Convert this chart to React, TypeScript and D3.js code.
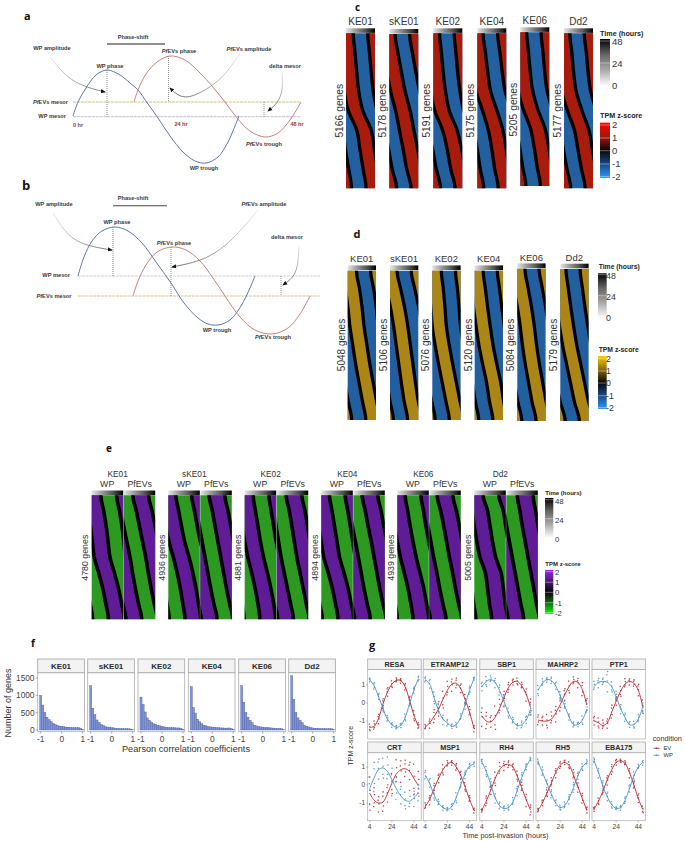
import React from "react";
import * as d3 from "d3";

// ---------- DATA ----------
const STRAINS = ["KE01", "sKE01", "KE02", "KE04", "KE06", "Dd2"];
const GENES_C = [5166, 5178, 5191, 5175, 5205, 5177];
const GENES_D = [5048, 5106, 5076, 5120, 5084, 5179];
const GENES_E = [4780, 4936, 4881, 4894, 4939, 5005];
const ROW_FRACS = [0, 0.125, 0.25, 0.375, 0.5, 0.625, 0.75, 0.875, 1];

// phase of the high-to-low crossing (fraction of the 48 h column span) read down each heatmap
const PHASE_C = [
  [.25, .31, .37, .44, .58, .87, .98, 1.09, 1.19],
  [.2, .3, .42, .55, .72, .85, .98, 1.1, 1.25],
  [.22, .28, .34, .42, .55, .82, .98, 1.1, 1.25],
  [.2, .28, .36, .46, .68, .88, 1.0, 1.1, 1.22],
  [.22, .28, .34, .42, .6, .85, .98, 1.08, 1.19],
  [.2, .27, .33, .42, .62, .86, .98, 1.1, 1.23],
];
const PHASE_D = [
  [.31, .42, .51, .58, .68, .78, .9, 1.02, 1.14],
  [.25, .38, .52, .63, .72, .81, .9, 1.0, 1.12],
  [.32, .39, .45, .5, .6, .72, .85, .98, 1.1],
  [.3, .38, .46, .55, .65, .78, .92, 1.02, 1.14],
  [.27, .38, .5, .6, .68, .78, .9, 1.02, 1.16],
  [.2, .28, .37, .47, .58, .72, .86, 1.0, 1.17],
];
const PHASE_E_WP = [
  [.29, .38, .46, .52, .58, .72, .85, .95, 1.03],
  [.24, .33, .42, .52, .66, .78, .88, .96, 1.03],
  [.27, .34, .42, .5, .6, .72, .83, .92, .98],
  [.26, .34, .42, .5, .58, .72, .85, .95, 1.03],
  [.25, .33, .41, .5, .6, .72, .84, .93, 1.0],
  [.28, .42, .5, .58, .68, .85, .92, .98, 1.05],
];
const PHASE_E_EV = [
  [.79, .9, 1.0, 1.1, 1.2, 1.28, 1.37, 1.47, 1.57],
  [.78, .88, .97, 1.06, 1.15, 1.24, 1.33, 1.43, 1.53],
  [.8, .9, .98, 1.06, 1.14, 1.24, 1.34, 1.44, 1.53],
  [.78, .88, .97, 1.07, 1.16, 1.25, 1.34, 1.44, 1.54],
  [.75, .86, .96, 1.05, 1.14, 1.24, 1.33, 1.43, 1.53],
  [.85, .93, 1.01, 1.1, 1.19, 1.28, 1.37, 1.46, 1.55],
];

const HIST_BINS = [-1, -.9, -.8, -.7, -.6, -.5, -.4, -.3, -.2, -.1, 0, .1, .2, .3, .4, .5, .6, .7, .8, .9, 1];
const HIST_COUNTS = [
  [1000, 720, 510, 370, 300, 240, 190, 160, 130, 115, 105, 95, 85, 80, 75, 70, 65, 65, 70, 55, 20],
  [1280, 630, 450, 290, 220, 160, 130, 100, 85, 80, 70, 60, 50, 45, 40, 40, 35, 35, 35, 30, 12],
  [950, 740, 520, 350, 280, 230, 180, 170, 140, 120, 110, 90, 80, 70, 70, 65, 65, 60, 60, 50, 18],
  [1250, 650, 490, 310, 240, 180, 140, 120, 100, 90, 85, 75, 70, 65, 60, 60, 55, 55, 60, 45, 15],
  [1280, 800, 510, 370, 280, 210, 140, 120, 100, 90, 85, 75, 70, 65, 60, 55, 50, 45, 45, 35, 12],
  [1570, 880, 510, 350, 280, 210, 140, 110, 90, 70, 60, 50, 50, 45, 40, 40, 35, 35, 35, 35, 12],
];

const GENE_NAMES = ["RESA", "ETRAMP12", "SBP1", "MAHRP2", "PTP1", "CRT", "MSP1", "RH4", "RH5", "EBA175"];
const TIMES = [4, 8, 12, 16, 20, 24, 28, 32, 36, 40, 44, 48];
const EV_CURVES = [
  [-1.35, -1.3, -.85, -.05, .6, 1.05, 1.25, 1.25, .9, .15, -.7, -1.3],
  [-1.35, -1.1, -.75, -.35, .2, .7, 1.05, 1.1, .8, .2, -.5, -1.4],
  [-.7, -1.0, -1.05, -.8, -.3, .3, .85, 1.15, 1.2, .95, .5, -.25],
  [-.95, -1.0, -1.0, -.9, -.55, -.1, .45, .9, 1.2, 1.15, .75, -.1],
  [-1, -1.1, -1.25, -1.1, -.5, .1, .65, 1.05, 1.2, 1.1, .7, -.2],
  [-.45, -.85, -1.0, -.95, -.5, .1, .6, .85, .9, .75, .35, -.05],
  [-1.2, -.8, -.2, .35, .85, 1.15, 1.25, 1.0, .55, -.1, -.8, -1.4],
  [-1.4, -.9, -.3, .35, .85, 1.1, 1.15, 1.0, .5, -.15, -.8, -1.4],
  [-1.4, -1, -.45, .1, .7, 1.1, 1.25, 1.1, .55, -.1, -.75, -1.4],
  [-1.35, -.9, -.35, .3, .85, 1.25, 1.35, 1.2, .7, 0, -.75, -1.35],
];
const WP_CURVES = [
  [1.3, .95, .35, -.3, -.9, -1.2, -1.35, -1.25, -.8, -.05, .75, 1.35],
  [1.3, 1.05, .3, -.4, -.9, -1.1, -1.3, -1.2, -.8, -.1, .7, 1.35],
  [.9, 1.2, 1.3, 1.15, .7, .1, -.55, -1.0, -1.25, -1.2, -.95, -.35],
  [.7, 1.1, 1.3, 1.25, .95, .4, -.15, -.75, -1.2, -1.2, -.95, -.35],
  [.9, 1.15, 1.2, 1.15, .9, .35, -.3, -.8, -1.2, -1.2, -.9, -.2],
  [-.2, .4, .85, .95, .75, .3, -.2, -.6, -.85, -.9, -.7, -.45],
  [.55, .1, -.55, -1.0, -1.25, -1.35, -1.2, -.7, 0, .6, 1.05, 1.15],
  [1.3, .75, .05, -.7, -1.15, -1.3, -1.25, -.95, -.3, .4, 1.0, 1.45],
  [1.3, .7, .1, -.5, -1.0, -1.25, -1.15, -.75, -.15, .5, 1.0, 1.25],
  [1.35, .7, -.05, -.65, -1.1, -1.3, -1.25, -.85, -.2, .5, 1.0, 1.25],
];
// half-width of the replicate scatter read at each time
const EV_SPREAD = [
  [.2, .3, .3, .3, .3, .2, .15, .15, .2, .25, .3, .2],
  [.15, .3, .4, .5, .5, .5, .4, .3, .3, .3, .3, .2],
  [.6, .5, .4, .7, .5, .5, .3, .2, .2, .2, .4, .5],
  [.3, .3, .4, .4, .5, .4, .4, .35, .25, .3, .4, .4],
  [.3, .3, .3, .3, .4, .3, .3, .3, .2, .2, .4, .4],
  [1.0, .7, .5, .6, .6, .6, .8, .7, .5, .6, .9, .8],
  [.2, .3, .3, .3, .3, .2, .15, .2, .25, .25, .2, .15],
  [.1, .3, .3, .4, .4, .3, .2, .2, .3, .3, .4, .3],
  [.1, .2, .2, .3, .3, .2, .15, .2, .3, .3, .3, .2],
  [.15, .2, .3, .3, .3, .2, .1, .15, .3, .2, .3, .2],
];
const WP_SPREAD = [
  [.12, .2, .2, .2, .2, .15, .1, .15, .2, .2, .2, .15],
  [.15, .3, .35, .3, .3, .2, .15, .15, .2, .25, .25, .1],
  [.3, .3, .2, .3, .3, .3, .3, .2, .15, .2, .25, .3],
  [.3, .25, .15, .2, .25, .25, .25, .2, .15, .15, .25, .3],
  [.3, .3, .2, .7, .3, .3, .3, .25, .2, .2, .25, .3],
  [.9, .9, .7, .6, .8, .9, .7, .6, .5, .6, .5, .5],
  [.25, .3, .3, .2, .15, .1, .2, .3, .3, .25, .15, .15],
  [.15, .3, .3, .3, .2, .15, .15, .25, .3, .3, .2, .1],
  [.15, .3, .25, .25, .2, .15, .2, .3, .3, .25, .2, .15],
  [.15, .3, .3, .3, .2, .1, .15, .2, .25, .25, .15, .15],
];
const REPLICATE_OFFSETS = [
  [.9, -.6, .15, -.95],
  [-.5, 1, -.2, .45],
  [.3, -1, .7, -.1],
  [-.85, .55, .95, -.35],
  [.6, .1, -.75, .85],
];

const A_WP: [number, number][] = [[73, 116], [78, 102], [86, 88], [96, 75], [107, 70], [120, 75], [130, 83], [138, 90], [148, 104], [158, 118], [170, 136], [183, 152], [195, 161], [206, 163], [218, 157], [228, 142], [235, 126], [239, 116]];
const A_EV: [number, number][] = [[134, 102], [138, 90], [146, 74], [157, 62], [170, 56], [185, 60], [200, 73], [212, 86], [225, 102], [237, 118], [250, 131], [265, 137], [278, 133], [290, 120], [301, 102]];
const B_WP: [number, number][] = [[78, 276], [84, 257], [92, 241], [102, 231], [115, 227], [128, 231], [142, 243], [156, 262], [171, 283], [184, 303], [198, 318], [208, 324], [218, 325], [230, 320], [241, 306], [250, 288], [255, 276]];
const B_EV: [number, number][] = [[133, 296], [138, 281], [146, 265], [157, 252], [172, 247], [186, 250], [200, 261], [213, 278], [225, 296], [240, 317], [255, 330], [272, 334], [288, 328], [300, 314], [310, 296]];

const ARROWS: { pts: [number, number][]; id: string }[] = [
  { id: "a1", pts: [[50, 57], [67, 78], [85, 87], [105, 92]] },
  { id: "a2", pts: [[240, 53], [227, 73], [210, 88], [188, 99], [177, 95], [170, 88]] },
  { id: "a3", pts: [[282, 72], [283, 90], [278, 103], [268, 111]] },
  { id: "b1", pts: [[53, 213], [68, 237], [87, 246], [112, 250]] },
  { id: "b2", pts: [[258, 210], [233, 240], [207, 260], [172, 267]] },
  { id: "b3", pts: [[299, 245], [298, 267], [293, 278], [283, 285]] },
];

const SCHEMA_TEXT: [string, number, number, string][] = [
  ["Phase-shift", 133, 39, "middle"], ["WP amplitude", 52, 50, "middle"], ["PfEVs phase", 179, 53, "middle"],
  ["PfEVs amplitude", 249, 50.5, "middle"], ["WP phase", 110, 68, "middle"], ["delta mesor", 285, 68, "middle"],
  ["PfEVs mesor", 68, 104, "end"], ["WP mesor", 66, 118, "end"], ["PfEVs trough", 264, 146, "middle"], ["WP trough", 204, 170, "middle"],
  ["Phase-shift", 133, 200, "middle"], ["WP amplitude", 54, 205.5, "middle"], ["PfEVs amplitude", 264, 206, "middle"],
  ["WP phase", 117, 224, "middle"], ["PfEVs phase", 174, 244.5, "middle"], ["delta mesor", 287, 238.5, "middle"],
  ["WP mesor", 70, 277, "end"], ["PfEVs mesor", 71.5, 297.7, "end"], ["WP trough", 217, 332, "middle"], ["PfEVs trough", 273, 339, "middle"],
];
const HOUR_TEXT: [string, number, number][] = [["0 hr", 78, 126.5], ["24 hr", 181, 125.5], ["48 hr", 297, 125.5]];

// ---------- LAYOUT ----------
const SANS = "Liberation Sans, Arial, sans-serif";
const C_X = [346, 389.3, 433.3, 477.3, 520.3, 564];
const C_TOP = [33.3, 34, 33.3, 33.3, 32.3, 33.3];
const C_BOT = [188.3, 188.3, 188.3, 188.3, 186, 188.3];
const D_X = [347.7, 390, 432.3, 474.7, 517.3, 560.3];
const D_TOP = [270.7, 270.7, 270.7, 270.7, 268.7, 269];
const D_BOT = [420, 420, 420, 420, 421, 421];
const E_X = [91.7, 168.3, 244.7, 321.3, 397.3, 474.3];
const E_Y: [number, number] = [495.3, 619.3];
const Z_TICKS = [2, 1, 0, -1, -2];
const T_TICKS = [48, 24, 0];

function Heatmap({ id, x, w, y0, y1, phase, hot, cold }: { id: string; x: number; w: number; y0: number; y1: number; phase: number[]; hot: string; cold: string }) {
  const sx = d3.scaleLinear([0, 1], [x, x + w]);
  const sy = d3.scaleLinear([0, 1], [y0, y1]);
  // the first and last rows are carried past the clip so the blur does not fade at the ends
  const rows: [number, number][] = [[-0.05, phase[0]], ...phase.map((p, i) => [ROW_FRACS[i], p] as [number, number]), [1.05, phase[phase.length - 1]]];
  const area = (k: number) =>
    d3.area<[number, number]>().y((r) => sy(r[0])).x0((r) => sx(r[1] - 0.5 + k)).x1((r) => sx(r[1] + k)).curve(d3.curveMonotoneY)(rows) as string;
  const edge = (k: number) =>
    d3.line<[number, number]>().y((r) => sy(r[0])).x((r) => sx(r[1] + k)).curve(d3.curveMonotoneY)(rows) as string;
  const shifts = [-2, -1, 0, 1];
  const edges = [-2.5, -2, -1.5, -1, -0.5, 0, 0.5, 1];
  return (
    <g clipPath={`url(#clip-${id})`}>
      <clipPath id={`clip-${id}`}><rect x={x} y={y0} width={w} height={y1 - y0} /></clipPath>
      <rect x={x - 8} y={y0 - 12} width={w + 16} height={y1 - y0 + 24} fill={cold} />
      <g filter="url(#soft)">
        {shifts.map((k) => <path key={k} d={area(k)} fill={hot} />)}
        {edges.map((k) => <path key={k} d={edge(k)} fill="none" stroke="#000" strokeWidth={w * 0.115} />)}
      </g>
    </g>
  );
}

function TimeBar({ x, w, y }: { x: number; w: number; y: number }) {
  return <rect x={x} y={y} width={w} height={4.6} fill="url(#timeH)" />;
}

function Legend({ x, titleX, w, tY, tTop, tBot, tLabels, zTitleY, zTop, zBot, zLabels, grad, fs, titleFs, labelX }: any) {
  return (
    <g fontFamily={SANS}>
      <text x={titleX} y={tY} fontSize={titleFs} fontWeight="bold" fill="#222">Time (hours)</text>
      <rect x={x} y={tTop} width={w} height={tBot - tTop} fill="url(#timeV)" />
      {T_TICKS.map((t, i) => (
        <g key={t}>
          <line x1={x} x2={x + w} y1={tLabels[i] - 1} y2={tLabels[i] - 1} stroke="#fff" strokeWidth={0.4} />
          <text x={labelX} y={tLabels[i] + fs * 0.36} fontSize={fs} fill="#333">{t}</text>
        </g>
      ))}
      <text x={titleX} y={zTitleY} fontSize={titleFs} fontWeight="bold" fill="#222">TPM z-score</text>
      <rect x={x} y={zTop} width={w} height={zBot - zTop} fill={`url(#${grad})`} />
      {Z_TICKS.map((t, i) => (
        <g key={t}>
          <line x1={x} x2={x + w} y1={zLabels[i]} y2={zLabels[i]} stroke="#fff" strokeWidth={0.4} />
          <text x={labelX} y={zLabels[i] + fs * 0.36} fontSize={fs} fill="#333">{t}</text>
        </g>
      ))}
    </g>
  );
}

function SchemaLabel({ t, x, y, anchor }: { t: string; x: number; y: number; anchor: string }) {
  const pf = t.startsWith("Pf");
  return (
    <text x={x} y={y} textAnchor={anchor as any} fontFamily={SANS} fontSize={5.7} fontWeight="bold" fill="#3a3a3a">
      {pf ? <><tspan fontStyle="italic">Pf</tspan>{t.slice(2)}</> : t}
    </text>
  );
}

function Schema() {
  const curve = d3.line().curve(d3.curveCatmullRom.alpha(0.5));
  const arrow = d3.line().curve(d3.curveBasis);
  const meso: [number, number, number, string][] = [
    [73, 301, 102, "#b9b46a"], [73, 301, 116.7, "#a9add0"], [78, 320, 276, "#c4c6d8"], [78, 320, 296, "#cdb878"],
  ];
  const drops: [number, number, number][] = [[107, 70, 116.7], [168.5, 56, 102], [264, 102, 116.7], [113, 227, 276], [171, 247, 296], [281, 276, 296]];
  return (
    <g>
      {meso.map((m, i) => <line key={i} x1={m[0]} x2={m[1]} y1={m[2]} y2={m[2]} stroke={m[3]} strokeWidth={0.8} strokeDasharray="3 0.8" />)}
      {drops.map((d, i) => <line key={i} x1={d[0]} x2={d[0]} y1={d[1]} y2={d[2]} stroke="#444" strokeWidth={0.6} strokeDasharray="1 1" />)}
      <path d={curve(A_WP) as string} fill="none" stroke="#4c6a9c" strokeWidth={0.9} />
      <path d={curve(A_EV) as string} fill="none" stroke="#c6736c" strokeWidth={0.9} />
      <path d={curve(B_WP) as string} fill="none" stroke="#4c6a9c" strokeWidth={0.9} />
      <path d={curve(B_EV) as string} fill="none" stroke="#c6736c" strokeWidth={0.9} />
      <line x1={107} x2={165} y1={44} y2={44} stroke="#222" strokeWidth={1} />
      <line x1={113} x2={167} y1={205.7} y2={205.7} stroke="#444" strokeWidth={1.1} />
      {ARROWS.map((a) => {
        const s = a.pts[0], e = a.pts[a.pts.length - 1];
        return (
          <g key={a.id}>
            <linearGradient id={`ag-${a.id}`} gradientUnits="userSpaceOnUse" x1={s[0]} y1={s[1]} x2={e[0]} y2={e[1]}>
              <stop offset="0" stopColor="#ddd" />
              <stop offset="1" stopColor="#111" />
            </linearGradient>
            <path d={arrow(a.pts) as string} fill="none" stroke={`url(#ag-${a.id})`} strokeWidth={0.6} markerEnd="url(#head)" />
          </g>
        );
      })}
      {SCHEMA_TEXT.map((t, i) => <SchemaLabel key={i} t={t[0]} x={t[1]} y={t[2]} anchor={t[3]} />)}
      {HOUR_TEXT.map((t) => <text key={t[0]} x={t[1]} y={t[2]} textAnchor="middle" fontFamily={SANS} fontSize={5.5} fontWeight="bold" fill="#8c3a3a">{t[0]}</text>)}
    </g>
  );
}

function PanelC() {
  return (
    <g fontFamily={SANS} fill="#333">
      {STRAINS.map((s, i) => {
        const dy = C_TOP[i] - 33.3;
        return (
          <g key={s}>
            <text x={C_X[i] + 14.5} y={24.5 + (i === 4 ? -0.3 : 0)} textAnchor="middle" fontSize={10}>{s}</text>
            <TimeBar x={C_X[i]} w={29} y={28.3 + dy} />
            <Heatmap id={`c${i}`} x={C_X[i]} w={29} y0={C_TOP[i]} y1={C_BOT[i]} phase={PHASE_C[i]} hot="#a81e10" cold="#22609f" />
            <text transform={`translate(${C_X[i] - 3.2},${110.7 + (i === 4 ? -1 : 0)}) rotate(-90)`} textAnchor="middle" fontSize={10.3}>{GENES_C[i]} genes</text>
          </g>
        );
      })}
      <Legend x={600} titleX={600} w={10} tY={36} tTop={39} tBot={86} tLabels={[42, 64, 86]} zTitleY={118} zTop={122.7} zBot={178} zLabels={[125, 138, 150.7, 164, 176.7]} grad="zRed" fs={9.5} titleFs={7.2} labelX={612} />
    </g>
  );
}

function PanelD() {
  return (
    <g fontFamily={SANS} fill="#333">
      {STRAINS.map((s, i) => (
        <g key={s}>
          <text x={D_X[i] + 14} y={i >= 4 ? 260.5 : 262} textAnchor="middle" fontSize={9.5}>{s}</text>
          <TimeBar x={D_X[i]} w={28.3} y={D_TOP[i] - 5.3} />
          <Heatmap id={`d${i}`} x={D_X[i]} w={28.3} y0={D_TOP[i]} y1={D_BOT[i]} phase={PHASE_D[i]} hot="#ab8614" cold="#225f9f" />
          <text transform={`translate(${D_X[i] - 3.2},345) rotate(-90)`} textAnchor="middle" fontSize={10}>{GENES_D[i]} genes</text>
        </g>
      ))}
      <Legend x={598} titleX={598.7} w={8.7} tY={269} tTop={273.3} tBot={318} tLabels={[275.7, 296.7, 318]} zTitleY={352} zTop={356} zBot={409} zLabels={[358.7, 371, 383, 395.7, 407.7]} grad="zGold" fs={8.8} titleFs={6.8} labelX={606} />
    </g>
  );
}

function PanelE() {
  const w = 31.5;
  return (
    <g fontFamily={SANS} fill="#333">
      {STRAINS.map((s, i) => (
        <g key={s}>
          <text x={E_X[i] + 26} y={476.7} textAnchor="middle" fontSize={8.3}>{s}</text>
          <text x={E_X[i] + 15.5} y={487} textAnchor="middle" fontSize={8.8}>WP</text>
          <text x={E_X[i] + 48} y={487} textAnchor="middle" fontSize={8.8}>PfEVs</text>
          <TimeBar x={E_X[i]} w={w} y={490.5} />
          <TimeBar x={E_X[i] + 32} w={w} y={490.5} />
          <Heatmap id={`ew${i}`} x={E_X[i]} w={w} y0={E_Y[0]} y1={E_Y[1]} phase={PHASE_E_WP[i]} hot="#5f1e96" cold="#2c9a20" />
          <Heatmap id={`ee${i}`} x={E_X[i] + 32} w={w} y0={E_Y[0]} y1={E_Y[1]} phase={PHASE_E_EV[i]} hot="#5f1e96" cold="#2c9a20" />
          <text transform={`translate(${E_X[i] - 3.4},557.7) rotate(-90)`} textAnchor="middle" fontSize={8.8}>{GENES_E[i]} genes</text>
        </g>
      ))}
      <Legend x={545} titleX={545.3} w={8.3} tY={494.7} tTop={498} tBot={538} tLabels={[500.7, 519.7, 538.7]} zTitleY={565.7} zTop={570} zBot={614} zLabels={[571.7, 582.3, 592.3, 602.7, 612.7]} grad="zPurple" fs={7.8} titleFs={6} labelX={555} />
    </g>
  );
}

function PanelF() {
  const PANEL_X = [37.7, 87.7, 138, 188.3, 238.7, 288.7];
  const pw = 46.7;
  const yS = d3.scaleLinear([0, 1500], [730, 678]);
  return (
    <g fontFamily={SANS}>
      {STRAINS.map((s, i) => {
        const x0 = PANEL_X[i];
        const xS = d3.scaleLinear([-1, 1], [x0 + 3, x0 + 45]);
        const bw = xS(-0.9) - xS(-1);
        return (
          <g key={s}>
            <rect x={x0} y={672.7} width={pw} height={59} fill="#fff" stroke="#ababab" strokeWidth={0.8} />
            <rect x={x0} y={659} width={pw} height={13.7} fill="#f3f3f3" stroke="#ababab" strokeWidth={0.9} />
            <text x={x0 + pw / 2} y={669} textAnchor="middle" fontSize={8} fontWeight="bold" fill="#2a2a2a">{s}</text>
            {HIST_BINS.map((b, j) => (
              <rect key={j} x={xS(b) - bw / 2} y={yS(HIST_COUNTS[i][j])} width={bw} height={yS(0) - yS(HIST_COUNTS[i][j])} fill="#8095d6" stroke="#44569e" strokeWidth={0.35} />
            ))}
            {[-1, 0, 1].map((t) => (
              <g key={t}>
                <line x1={xS(t)} x2={xS(t)} y1={731.7} y2={733.5} stroke="#555" strokeWidth={0.5} />
                <text x={xS(t)} y={741.5} textAnchor="middle" fontSize={8.3} fill="#444">{t}</text>
              </g>
            ))}
          </g>
        );
      })}
      {[0, 500, 1000, 1500].map((t) => (
        <g key={t}>
          <line x1={35.7} x2={37.7} y1={yS(t)} y2={yS(t)} stroke="#555" strokeWidth={0.5} />
          <text x={34.5} y={yS(t) + 3} textAnchor="end" fontSize={8.3} fill="#444">{t}</text>
        </g>
      ))}
      <text transform="translate(10.5,703) rotate(-90)" textAnchor="middle" fontSize={9} fill="#333">Number of genes</text>
      <text x={186} y={752} textAnchor="middle" fontSize={9.2} fill="#333">Pearson correlation coefficients</text>
    </g>
  );
}

function PanelG() {
  const COL_X = [367.7, 423.2, 479.8, 536, 592];
  const ROW_Y = [[659, 669.5, 739], [742, 752.7, 820.7]];
  const pw = 53.5;
  const EV = "#b8242c", WP = "#4a8fc4";
  return (
    <g fontFamily={SANS}>
      {GENE_NAMES.map((g, i) => {
        const r = Math.floor(i / 5), c = i % 5;
        const [st, t0, b] = ROW_Y[r];
        const x0 = COL_X[c];
        const xS = d3.scaleLinear([4, 44], [x0 + 2, x0 + 46.3]);
        const zero = r === 0 ? 703 : 785;
        const yS = d3.scaleLinear([-1, 1], [zero + 18, zero - 18]);
        const ln = d3.line<number>().x((_, j) => xS(TIMES[j])).y((v) => yS(v)).curve(d3.curveCatmullRom.alpha(0.5));
        const series: [number[], number[], string][] = [[EV_CURVES[i], EV_SPREAD[i], EV], [WP_CURVES[i], WP_SPREAD[i], WP]];
        return (
          <g key={g}>
            <rect x={x0} y={t0} width={pw} height={b - t0} fill="#fff" stroke="#ababab" strokeWidth={0.7} />
            <rect x={x0} y={st} width={pw} height={t0 - st} fill="#f3f3f3" stroke="#ababab" strokeWidth={0.8} />
            <text x={x0 + pw / 2} y={st + 8.2} textAnchor="middle" fontSize={7.2} fontWeight="bold" fill="#2a2a2a">{g}</text>
            {series.map(([cur, spr, col], si) => (
              <g key={si}>
                {cur.map((v, j) =>
                  REPLICATE_OFFSETS[(j + i + si * 2) % REPLICATE_OFFSETS.length].map((o, q) => (
                    <rect key={`${j}-${q}`} x={xS(TIMES[j]) - 0.65 + (q - 1.5) * 0.25} y={yS(v + o * spr[j]) - 0.65} width={1.3} height={1.3} fill={col} opacity={0.9} />
                  ))
                )}
                <path d={ln(cur) as string} fill="none" stroke={col} strokeWidth={0.9} />
              </g>
            ))}
            {r === 1 && [4, 24, 44].map((t) => (
              <g key={t}>
                <line x1={xS(t)} x2={xS(t)} y1={b} y2={b + 1.5} stroke="#555" strokeWidth={0.4} />
                <text x={xS(t)} y={b + 8.2} textAnchor="middle" fontSize={6.6} fill="#444">{t}</text>
              </g>
            ))}
            {c === 0 && [1, 0, -1].map((t) => (
              <g key={t}>
                <line x1={x0 - 1.5} x2={x0} y1={yS(t)} y2={yS(t)} stroke="#555" strokeWidth={0.4} />
                <text x={x0 - 2.5} y={yS(t) + 2.4} textAnchor="end" fontSize={6.6} fill="#444">{t}</text>
              </g>
            ))}
          </g>
        );
      })}
      <text transform="translate(353,745.7) rotate(-90)" textAnchor="middle" fontSize={7} fill="#333">TPM z-score</text>
      <text x={505.5} y={838} textAnchor="middle" fontSize={7.3} fill="#333">Time post-invasion (hours)</text>
      <text x={652.7} y={740.5} fontSize={7.3} fill="#333">condition</text>
      {[["EV", EV, 748.3], ["WP", WP, 755.3]].map(([l, col, y]: any) => (
        <g key={l}>
          <line x1={653.5} x2={659.5} y1={y} y2={y} stroke={col} strokeWidth={0.8} />
          <rect x={655.8} y={y - 0.7} width={1.4} height={1.4} fill={col} />
          <text x={663.5} y={y + 2} fontSize={5.8} fill="#333">{l}</text>
        </g>
      ))}
    </g>
  );
}

const LETTERS: [string, number, number, number][] = [["a", 24, 20, 11], ["b", 22, 190, 13], ["c", 355, 10.5, 10], ["d", 353.5, 238, 11], ["e", 106, 452, 10], ["f", 31, 647, 10], ["g", 369, 649, 11]];

function gradStops(colors: string[]) {
  return colors.map((c, i) => <stop key={i} offset={i / (colors.length - 1)} stopColor={c} />);
}

export default function App() {
  return (
    <svg width={685} height={841} style={{ position: "absolute", left: 0, top: 0, background: "#fff" }} xmlns="http://www.w3.org/2000/svg">
      <defs>
        <filter id="soft" x="-20%" y="-20%" width="140%" height="140%"><feGaussianBlur stdDeviation="0.75" /></filter>
        <marker id="head" viewBox="0 0 6 6" refX="5" refY="3" markerWidth="5" markerHeight="5" orient="auto" markerUnits="userSpaceOnUse">
          <path d="M0,0.5 L6,3 L0,5.5 Z" fill="#111" />
        </marker>
        <linearGradient id="timeH" x1="0" x2="1" y1="0" y2="0">{gradStops(["#e6e6e6", "#999", "#555", "#000"])}</linearGradient>
        <linearGradient id="timeV" x1="0" x2="0" y1="1" y2="0">{gradStops(["#fff", "#aaa", "#666", "#000"])}</linearGradient>
        <linearGradient id="zRed" x1="0" x2="0" y1="0" y2="1">{gradStops(["#ff0000", "#a01a0c", "#0a0505", "#174a87", "#2f98f5"])}</linearGradient>
        <linearGradient id="zGold" x1="0" x2="0" y1="0" y2="1">{gradStops(["#ffcc00", "#8a6d10", "#0a0805", "#174a87", "#2f98f5"])}</linearGradient>
        <linearGradient id="zPurple" x1="0" x2="0" y1="0" y2="1">{gradStops(["#a020f0", "#4d1a78", "#080608", "#146a14", "#00ff00"])}</linearGradient>
      </defs>
      <rect width={685} height={841} fill="#fff" />
      <Schema />
      <PanelC />
      <PanelD />
      <PanelE />
      <PanelF />
      <PanelG />
      {LETTERS.map(([l, x, y, s]) => <text key={l} x={x} y={y} fontFamily="Open Sans, DejaVu Sans, sans-serif" fontWeight="bold" fontSize={s} fill="#111">{l}</text>)}
    </svg>
  );
}
